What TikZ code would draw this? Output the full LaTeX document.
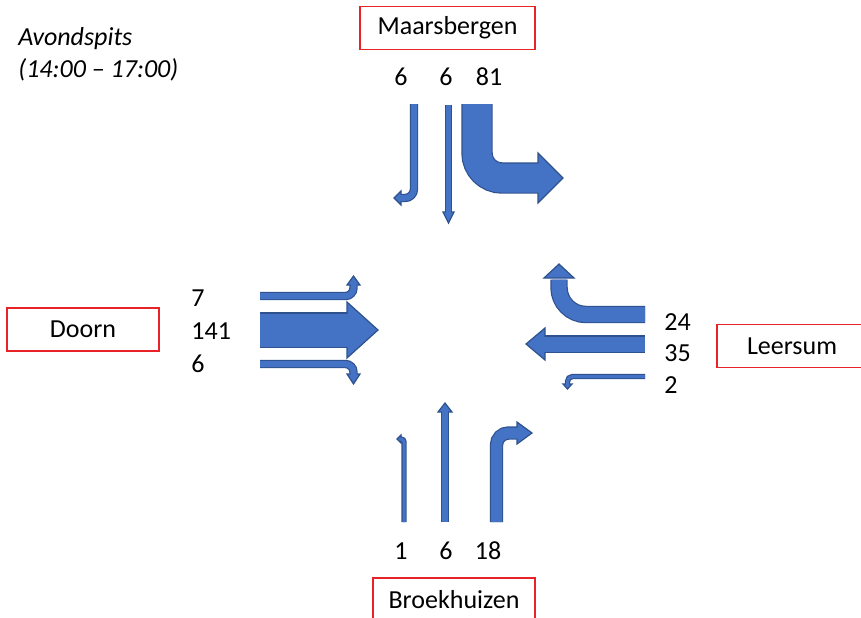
\documentclass[tikz,border=0pt]{standalone}
\usepackage{fontspec}
\setmainfont{Carlito}
\usepackage{xcolor}
\usepackage{tikz}
\usetikzlibrary{positioning, calc}
\definecolor{lanefill}{RGB}{68,114,196}
\definecolor{laneline}{RGB}{47,82,143}
\definecolor{boxred}{RGB}{232,35,40}
\tikzset{
  place/.style={rectangle, draw=boxred, line width=0.75pt, minimum height=21.5pt, inner sep=0pt},
  count/.style={inner sep=0pt},
  laneedge/.style={draw=laneline},
  lanebody/.style={draw=lanefill},
  lanehead/.style={fill=lanefill, draw=laneline, line width=0.6pt, line join=miter},
}
% #1 bend radius, #2 shaft width (px), #3 shaft path, #4 head
\newcommand{\lane}[4]{%
  \draw[laneedge, line width=#2*0.5pt+1.2pt, rounded corners=#1*0.5pt] #3;
  \filldraw[lanehead] #4;
  \draw[lanebody, line width=#2*0.5pt, rounded corners=#1*0.5pt] #3;}

\begin{document}
\begin{tikzpicture}[x=0.5pt, y=-0.5pt, every node/.style={font=\fontsize{13}{16}\selectfont}]
\useasboundingbox (0,0) rectangle (861,617);
\clip (0,0) rectangle (861,617);

\node (title) [count, anchor=west, align=left] at (18,54) {\textit{Avondspits}\\\textit{(14:00 – 17:00)}};

% places
\node (maars) [place, minimum width=87.5pt] at (447.5,28) {Maarsbergen};
\node (doorn) [place, minimum width=76pt] at (83,329.5) {Doorn};
\node (leer)  [place, minimum width=75pt] at (792,346) {Leersum};
\node (broek) [place, minimum width=81pt] at (454,599.5) {Broekhuizen};

% counts
\node (n1) [count] at (401,77) {6};
\node (n2) [count] at (446,77) {6};
\node (n3) [count] at (489,77) {81};
\node (w1) [count, anchor=west] at (191,298) {7};
\node (w2) [count, anchor=west] at (191,331) {141};
\node (w3) [count, anchor=west] at (191,364) {6};
\node (e1) [count, anchor=west] at (664,322) {24};
\node (e2) [count, anchor=west] at (664,353) {35};
\node (e3) [count, anchor=west] at (664,385) {2};
\node (s1) [count] at (401,551) {1};
\node (s2) [count] at (446,551) {6};
\node (s3) [count] at (488,551) {18};

% from Maarsbergen
\lane{9}{6}{(414,104) |- (399.5,198)}{(401,191) -- (394,198) -- (401,205) -- cycle}
\lane{0}{5}{(448.5,105) -- (448.5,213.5)}{(443,212) -- (448.5,223) -- (454,212) -- cycle}
\lane{25}{29}{(477,104) |- (539.5,178)}{(538,153) -- (563,178) -- (538,203) -- cycle}

% from Doorn
\lane{8}{6}{(260,296) -| (353.5,283.5)}{(347,285) -- (353.5,276) -- (360,285) -- cycle}
\lane{0}{33}{(260,330) -- (348.5,330)}{(347,302) -- (378,330) -- (347,358) -- cycle}
\lane{8}{6}{(260,364) -| (353.5,375.5)}{(347,374) -- (353.5,384) -- (360,374) -- cycle}

% from Leersum
\lane{27}{15}{(645,314.5) -| (559,279.5)}{(544,278) -- (559,264) -- (574,278) -- cycle}
\lane{0}{15}{(645,344) -- (543.5,344)}{(545,328) -- (526,344) -- (545,360) -- cycle}
\lane{5}{3}{(645,376.5) -| (567.5,385.5)}{(563,384) -- (567.5,389) -- (572,384) -- cycle}

% from Broekhuizen
\lane{3}{3}{(404,522) |- (399.5,439)}{(401,435) -- (397,439) -- (401,443) -- cycle}
\lane{0}{6}{(445,522) -- (445,410.5)}{(438,412) -- (445,403) -- (452,412) -- cycle}
\lane{12}{11}{(496.5,522) |- (518.5,433)}{(517,422) -- (532,433) -- (517,444) -- cycle}
\end{tikzpicture}
\end{document}
